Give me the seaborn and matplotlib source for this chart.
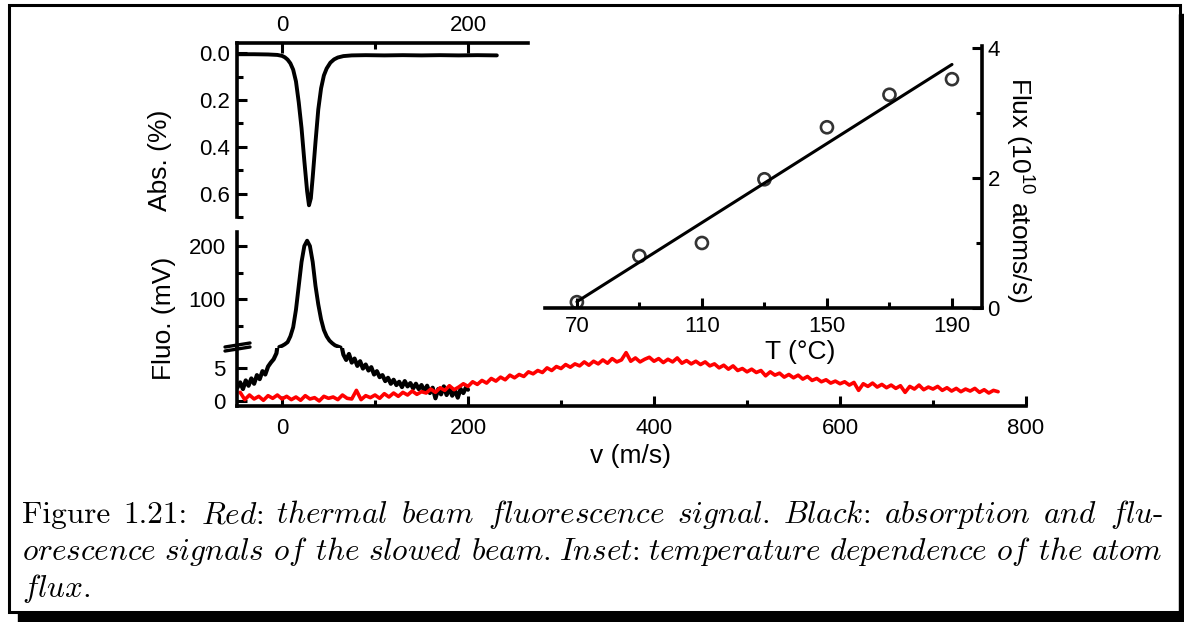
import matplotlib
matplotlib.use('Agg')
import matplotlib.pyplot as plt
from matplotlib.lines import Line2D
from matplotlib.patches import Rectangle
import pandas as pd
import seaborn as sns

# thermal beam fluorescence (red trace), v in m/s, signal in mV
red_v = list(range(-45, 771, 5))
red_mv = [1.3, 0.2, 0.9, 0.3, 0.7, 0.1, 0.8, 0.4, 0.9, 0.3,
          0.7, 0.2, 0.6, 0.1, 0.8, 0.3, 0.5, 0.0, 0.7, 0.4,
          0.6, 0.2, 0.9, 0.4, 0.3, 1.6, 0.2, 0.8, 0.5, 0.9,
          0.4, 1.1, 0.6, 1.2, 0.7, 1.3, 0.9, 1.5, 1.0, 1.4,
          1.2, 1.8, 1.3, 2.0, 1.6, 2.3, 1.7, 2.1, 2.6, 2.2,
          2.9, 2.5, 3.1, 2.7, 3.4, 3.0, 3.6, 3.2, 3.9, 3.5,
          4.0, 3.7, 4.4, 4.1, 4.6, 4.3, 5.0, 4.6, 5.2, 4.9,
          5.5, 5.1, 5.6, 5.3, 5.9, 5.4, 6.0, 5.6, 6.2, 5.7,
          6.4, 5.9, 6.2, 7.3, 6.0, 6.5, 5.9, 6.3, 6.6, 6.0,
          6.4, 5.8, 6.3, 5.9, 6.5, 5.7, 6.1, 5.6, 6.0, 5.5,
          5.9, 5.3, 5.6, 5.0, 5.4, 4.8, 5.3, 4.6, 4.9, 4.4,
          4.8, 4.3, 4.6, 3.8, 4.4, 3.9, 4.2, 3.6, 4.0, 3.5,
          3.9, 3.3, 3.7, 3.1, 3.4, 2.9, 3.2, 2.7, 3.0, 2.6,
          2.9, 2.4, 2.8, 1.6, 2.6, 2.2, 2.7, 2.1, 2.5, 2.0,
          2.4, 1.9, 2.3, 1.3, 2.2, 1.8, 2.4, 1.7, 2.1, 1.8,
          2.2, 1.6, 2.0, 1.5, 1.9, 1.4, 1.8, 1.5, 1.9, 1.3,
          1.7, 1.2, 1.6, 1.4]

# slowed beam fluorescence (black trace)
blk_v = [-48, -45, -42, -39, -36, -33, -30, -27, -24, -21, -18, -15, -12, -9, -6,
         -3, 0, 3, 6, 9, 12, 15, 18, 21, 24, 27, 30, 33, 36, 39, 42, 45, 48, 51,
         54, 57, 60, 63,
         66, 69, 72, 75, 78, 81, 84, 87, 90, 93, 96, 99, 102, 105, 108, 111, 114,
         117, 120, 123, 126, 129, 132, 135, 138, 141, 144, 147, 150, 153, 156, 159,
         162, 165, 168, 171, 174, 177, 180, 183, 186, 189, 192, 195, 198, 200]
blk_mv = [2.0, 2.8, 1.8, 3.1, 2.3, 3.4, 2.6, 3.9, 3.3, 4.5, 4.0, 5.2, 5.8, 6.3, 7.2,
          10, 12, 15, 19, 30, 47, 80, 125, 170, 200, 210, 200, 170, 125, 90, 62, 42,
          30, 22, 17, 13, 11, 9,
          7.0, 6.2, 7.1, 5.8, 6.4, 5.3, 6.0, 4.9, 5.5, 4.6, 5.1, 4.0, 4.5, 3.6, 3.9,
          3.0, 3.5, 2.6, 3.2, 2.4, 2.9, 2.1, 3.0, 2.2, 2.7, 1.9, 2.6, 1.8, 2.4, 1.5,
          2.3, 1.2, 2.0, 0.4, 1.8, 1.0, 2.2, 0.9, 1.9, 0.8, 1.6, 0.5, 1.8, 1.2, 2.1, 1.7]

# slowed beam absorption
abs_v = [-48, -30, -15, -5, 0, 3, 6, 9, 12, 15, 18, 21, 24, 27, 29, 31, 33, 36, 39,
         42, 45, 48, 52, 56, 60, 66, 75, 90, 110, 130, 150, 170, 190, 210, 231]
abs_pct = [0.004, 0.004, 0.005, 0.007, 0.011, 0.017, 0.027, 0.043, 0.07, 0.12, 0.21,
           0.32, 0.46, 0.59, 0.65, 0.62, 0.53, 0.38, 0.24, 0.15, 0.095, 0.065, 0.04,
           0.026, 0.018, 0.012, 0.009, 0.008, 0.009, 0.008, 0.009, 0.008, 0.009,
           0.008, 0.009]

# inset: atom flux vs oven temperature
temp_c = [70, 90, 110, 130, 150, 170, 190]
flux = [0.09, 0.80, 1.00, 1.98, 2.78, 3.28, 3.52]

BREAK = 8.0  # mV, where the fluorescence axis is broken
blk = pd.DataFrame({'v': blk_v, 'mv': blk_mv})
blk_peak = blk[blk['mv'] >= BREAK]

sns.set_theme(style='ticks')
plt.rcParams['font.family'] = ['Liberation Sans', 'DejaVu Sans']
plt.rcParams['lines.solid_joinstyle'] = 'round'
plt.rcParams['lines.solid_capstyle'] = 'round'

W, H = 1184, 622
fig = plt.figure(figsize=(W / 100, H / 100), dpi=100, facecolor='white')


def rect(l, t, r, b):
    return [l / W, 1 - b / H, (r - l) / W, (b - t) / H]


SPW = 2.6
TICK = dict(direction='in', width=2.2, labelsize=16, colors='black')


def setup(ax, show):
    ax.set_facecolor('none')
    for s in ['top', 'bottom', 'left', 'right']:
        ax.spines[s].set_visible(s in show)
        ax.spines[s].set_linewidth(SPW)
        ax.spines[s].set_color('black')
    ax.tick_params(which='major', length=7.5, **TICK)
    ax.tick_params(which='minor', length=4, **TICK)


# absorption panel
ax_abs = fig.add_axes(rect(237, 43, 528, 217))
sns.lineplot(x=abs_v, y=abs_pct, ax=ax_abs, color='black', lw=2.8, estimator=None)
setup(ax_abs, ['top', 'left'])
ax_abs.set_xlim(-48.4, 264.5)
ax_abs.set_ylim(0.70, -0.044)
ax_abs.xaxis.tick_top()
ax_abs.set_xticks([0, 200])
ax_abs.set_xticks([100], minor=True)
ax_abs.set_yticks([0, 0.2, 0.4, 0.6], ['0.0', '0.2', '0.4', '0.6'])
ax_abs.set_yticks([0.1, 0.3, 0.5, 0.7], minor=True)
ax_abs.tick_params(axis='x', which='both', top=True, bottom=False, pad=5)
ax_abs.tick_params(axis='y', pad=5)

# fluorescence, upper part of broken axis
ax_hi = fig.add_axes(rect(237, 232, 1026, 348))
sns.lineplot(data=blk_peak, x='v', y='mv', ax=ax_hi, color='black', lw=2.8, estimator=None)
setup(ax_hi, ['left'])
ax_hi.set_xlim(-48.4, 800)
ax_hi.set_ylim(BREAK, 226.4)
ax_hi.set_xticks([])
ax_hi.set_yticks([100, 200])
ax_hi.set_yticks([50, 150], minor=True)
ax_hi.tick_params(axis='y', pad=8)
ax_hi.set_xlabel('')
ax_hi.set_ylabel('')

# fluorescence, lower part of broken axis
ax_lo = fig.add_axes(rect(237, 348, 1026, 406))
sns.lineplot(x=blk_v, y=blk_mv, ax=ax_lo, color='black', lw=3.0, estimator=None)
sns.lineplot(x=red_v, y=red_mv, ax=ax_lo, color='#ff0000', lw=2.6, estimator=None)
setup(ax_lo, ['left', 'bottom'])
ax_lo.set_xlim(-48.4, 800)
ax_lo.set_ylim(-0.76, BREAK)
ax_lo.set_xticks([0, 200, 400, 600, 800])
ax_lo.set_xticks([100, 300, 500, 700], minor=True)
ax_lo.set_yticks([0, 5])
ax_lo.tick_params(axis='y', pad=8)
ax_lo.tick_params(axis='x', pad=9)

# inset
ax_in = fig.add_axes(rect(545, 46, 982, 308))
sns.regplot(x=temp_c, y=flux, ax=ax_in, ci=None, color='black', marker='o',
            scatter_kws=dict(s=75, facecolors='none', edgecolors='black', linewidths=1.9),
            line_kws=dict(lw=2.2))
setup(ax_in, ['bottom', 'right'])
ax_in.set_xlim(59.8, 199.6)
ax_in.set_ylim(0, 4.03)
ax_in.yaxis.tick_right()
ax_in.set_xticks([70, 110, 150, 190])
ax_in.set_xticks([90, 130, 170], minor=True)
ax_in.set_yticks([0, 2, 4])
ax_in.set_yticks([1, 3], minor=True)
ax_in.tick_params(axis='x', which='both', pad=6)
ax_in.tick_params(axis='y', which='both', left=False, right=True, pad=4)

# axis labels
lab = dict(fontsize=19, ha='center', va='center', color='black')
fig.text(160 / W, 1 - 160 / H, 'Abs. (%)', rotation=90, **lab)
fig.text(164 / W, 1 - 318 / H, 'Fluo. (mV)', rotation=90, **lab)
fig.text(630 / W, 1 - 456 / H, 'v (m/s)', **lab)
fig.text(800 / W, 1 - 352 / H, 'T (°C)', **lab)
fig.text(1020 / W, 1 - 190 / H, r'Flux (10$^{\mathregular{10}}$ atoms/s)', rotation=270, **lab)

# break mark on the fluorescence axis
for dy in (-2, 2):
    fig.add_artist(Line2D([225 / W, 250 / W], [1 - (349 + dy) / H, 1 - (345 + dy) / H],
                          color='black', lw=2.4, transform=fig.transFigure))

# page frame with shadow
fig.add_artist(Rectangle((9 / W, 1 - 612 / H), 1171 / W, 607 / H, fill=False,
                         ec='black', lw=2.2, transform=fig.transFigure))
fig.add_artist(Rectangle((18 / W, 0), 1166 / W, 10 / H, color='black',
                         transform=fig.transFigure))
fig.add_artist(Rectangle((1179 / W, 0), 5 / W, 608 / H, color='black',
                         transform=fig.transFigure))

# caption, justified word by word
line1 = ['Figure', '1.21:', r'$\mathit{Red}$:', r'$\mathit{thermal}$', r'$\mathit{beam}$',
         r'$\mathit{fluorescence}$', r'$\mathit{signal.}$', r'$\mathit{Black}$:',
         r'$\mathit{absorption}$', r'$\mathit{and}$', r'$\mathit{flu}$-']
line2 = [r'$\mathit{orescence}$', r'$\mathit{signals}$', r'$\mathit{of}$', r'$\mathit{the}$',
         r'$\mathit{slowed}$', r'$\mathit{beam.}$', r'$\mathit{Inset}$:',
         r'$\mathit{temperature}$', r'$\mathit{dependence}$', r'$\mathit{of}$',
         r'$\mathit{the}$', r'$\mathit{atom}$']
line3 = [r'$\mathit{flux.}$']
CAP = 22.5


def justify(words, base, x0, x1=None):
    arts = [fig.text(0, 1 - base / H, w, fontsize=CAP, family='cmr10', math_fontfamily='cm',
                     va='baseline', color='black') for w in words]
    r = fig.canvas.get_renderer()
    widths = [a.get_window_extent(r).width for a in arts]
    gap = 8 if x1 is None else (x1 - x0 - sum(widths)) / max(len(words) - 1, 1)
    x = x0
    for a, w in zip(arts, widths):
        a.set_x(x / W)
        x += w + gap


justify(line1, 523, 22, 1163)
justify(line2, 560, 22, 1163)
justify(line3, 597, 22)

fig.savefig('out.png', dpi=100, facecolor='white')
